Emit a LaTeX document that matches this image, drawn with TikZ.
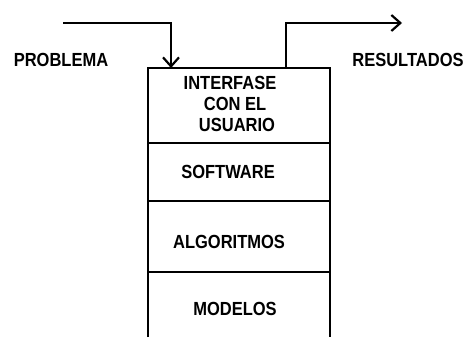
\documentclass[tikz,border=0pt]{standalone}
\usepackage{fontspec}
\setmainfont{Liberation Sans}
\usetikzlibrary{arrows.meta}
\newcommand{\tallt}[1]{\scalebox{1}[1.15]{#1}}
\begin{document}
\begin{tikzpicture}[x=1pt,y=-1pt,
  lbl/.style={font=\fontsize{16.5}{18}\selectfont\bfseries, inner sep=0pt, anchor=center},
  ln/.style={line width=2pt, black},
  arr/.style={ln, -{Straight Barb[length=9pt,width=16pt,line width=2.2pt]}}]
\useasboundingbox (0,0) rectangle (470,337);
% box
\coordinate (tl) at (148,68);
\coordinate (tr) at (330,68);
\coordinate (bl) at (148,337);
\coordinate (br) at (330,337);
\draw[ln] (bl) -- (tl) -- (tr) -- (br);
\coordinate (d1l) at (148,143); \coordinate (d1r) at (330,143);
\coordinate (d2l) at (148,201); \coordinate (d2r) at (330,201);
\coordinate (d3l) at (148,272); \coordinate (d3r) at (330,272);
\draw[ln] (d1l) -- (d1r);
\draw[ln] (d2l) -- (d2r);
\draw[ln] (d3l) -- (d3r);
% texts
\node[lbl] (t1) at (230,83) {\tallt{INTERFASE}};
\node[lbl] (t2) at (235,104) {\tallt{CON EL}};
\node[lbl] (t3) at (237,125) {\tallt{USUARIO}};
\node[lbl] (sw) at (228,172) {\tallt{SOFTWARE}};
\node[lbl] (al) at (229,242) {\tallt{ALGORITMOS}};
\node[lbl] (mo) at (235,309) {\tallt{MODELOS}};
\node[lbl] (pr) at (61,60) {\tallt{PROBLEMA}};
\node[lbl] (re) at (408,60) {\tallt{RESULTADOS}};
% arrows
\coordinate (inS) at (63,23);
\coordinate (inC) at (171,23);
\coordinate (inE) at (171,68);
\draw[arr] (inS) -- (inC) -- (inE);
\coordinate (outS) at (286,68);
\coordinate (outC) at (286,23);
\coordinate (outE) at (402,23);
\draw[arr] (outS) -- (outC) -- (outE);
\end{tikzpicture}
\end{document}
